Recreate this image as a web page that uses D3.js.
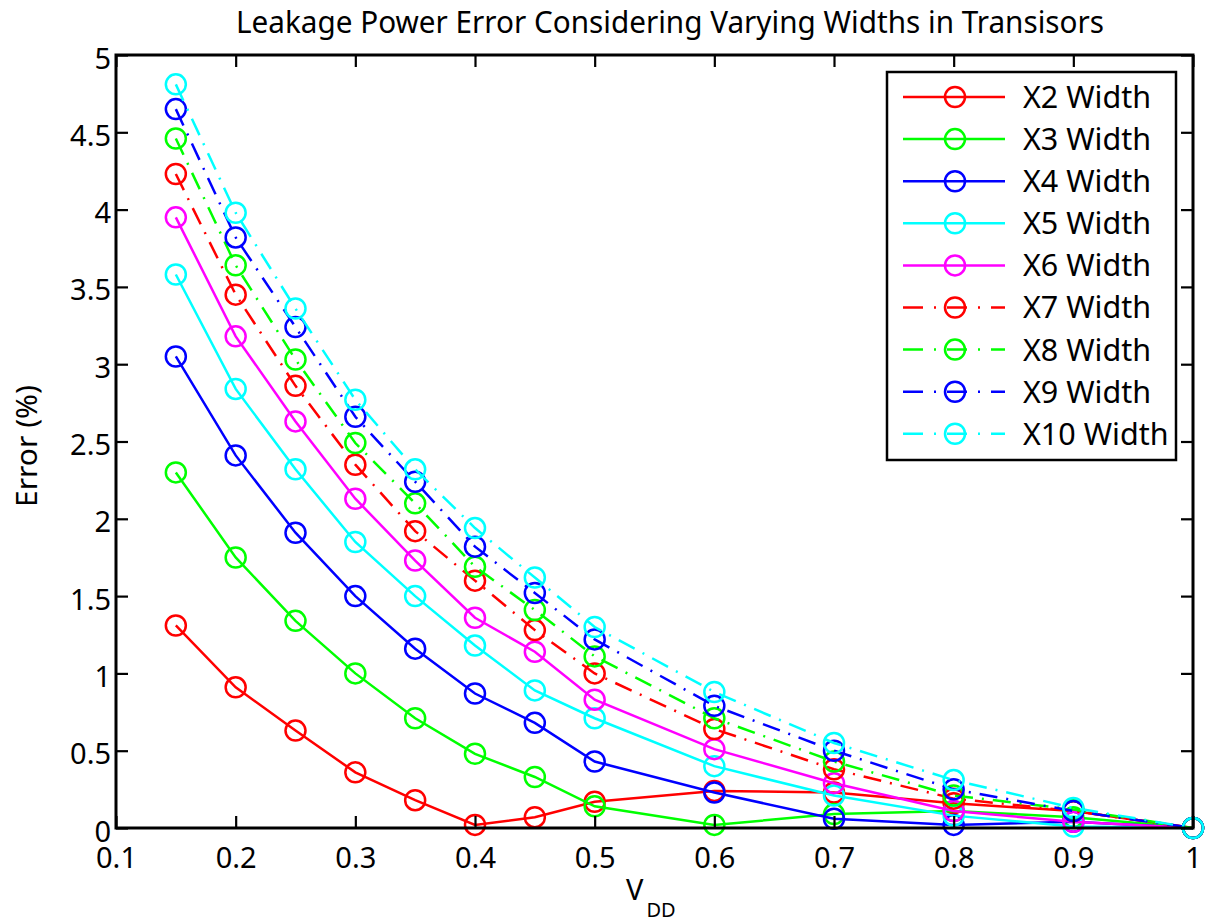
<!DOCTYPE html>
<html><head><meta charset="utf-8">
<script src="https://cdn.jsdelivr.net/npm/d3@7"></script>
<style>body{margin:0;background:#fff}svg{display:block}text{font-family:"Noto Sans",sans-serif;fill:#000}</style>
</head><body><svg id="c" width="1211" height="924"></svg>
<script>
const vdd = [0.15,0.2,0.25,0.3,0.35,0.4,0.45,0.5,0.6,0.7,0.8,0.9,1.0];
const x2  = [1.31,0.91,0.63,0.36,0.18,0.02,0.07,0.17,0.24,0.23,0.16,0.11,0];
const x3  = [2.30,1.75,1.34,1.00,0.71,0.48,0.33,0.14,0.02,0.09,0.11,0.07,0];
const x4  = [3.05,2.41,1.91,1.50,1.16,0.87,0.68,0.43,0.23,0.06,0.02,0.04,0];
const x5  = [3.58,2.84,2.32,1.85,1.50,1.18,0.89,0.71,0.40,0.21,0.08,0.01,0];
const x6  = [3.95,3.18,2.63,2.13,1.73,1.36,1.14,0.83,0.51,0.29,0.11,0.04,0];
const x7  = [4.23,3.45,2.86,2.35,1.92,1.60,1.28,1.00,0.64,0.38,0.19,0.11,0];
const x8  = [4.46,3.64,3.03,2.49,2.10,1.69,1.41,1.11,0.71,0.43,0.21,0.12,0];
const x9  = [4.65,3.82,3.24,2.66,2.24,1.82,1.52,1.22,0.79,0.50,0.25,0.11,0];
const x10 = [4.81,3.98,3.36,2.77,2.32,1.94,1.62,1.30,0.88,0.55,0.31,0.13,0];
const seriesNames = ["X2 Width","X3 Width","X4 Width","X5 Width","X6 Width","X7 Width","X8 Width","X9 Width","X10 Width"];
const seriesColors = ["#ff0000","#00ff00","#0000ff","#00ffff","#ff00ff","#ff0000","#00ff00","#0000ff","#00ffff"];
const seriesDashed = [false,false,false,false,false,true,true,true,true];
const xTicks = [0.1,0.2,0.3,0.4,0.5,0.6,0.7,0.8,0.9,1];
const yTicks = [0,0.5,1,1.5,2,2.5,3,3.5,4,4.5,5];
const title = "Leakage Power Error Considering Varying Widths in Transisors";

const allVals = [x2,x3,x4,x5,x6,x7,x8,x9,x10];
const series = seriesNames.map((n,i)=>({name:n,color:seriesColors[i],dashed:seriesDashed[i],values:allVals[i]}));

const svg = d3.select("#c");
const L=116,R=1193,T=55,B=828;
const x = d3.scaleLinear().domain([0.1,1]).range([L,R]);
const y = d3.scaleLinear().domain([0,5]).range([B,T]);
const dash = "18,9,2,9";
const lw = 2.5;

const plot = svg.append("g");
const line = d3.line().x((d,i)=>x(vdd[i])).y(d=>y(d));
series.forEach(s=>{
  plot.append("path").datum(s.values).attr("d",line).attr("fill","none")
    .attr("stroke",s.color).attr("stroke-width",lw)
    .attr("stroke-dasharray",s.dashed?dash:null);
  plot.selectAll(null).data(s.values).enter().append("circle")
    .attr("cx",(d,i)=>x(vdd[i])).attr("cy",d=>y(d)).attr("r",10)
    .attr("fill","none").attr("stroke",s.color).attr("stroke-width",lw);
});

// axes
const fs = 29;
const ax = svg.append("g").attr("transform",`translate(0,${B})`)
  .call(d3.axisBottom(x).tickValues(xTicks).tickSize(-12).tickPadding(19).tickFormat(d=>d3.format("")(d)));
const axT = svg.append("g").attr("transform",`translate(0,${T})`)
  .call(d3.axisTop(x).tickValues(xTicks).tickSize(-12).tickFormat(""));
const ay = svg.append("g").attr("transform",`translate(${L},0)`)
  .call(d3.axisLeft(y).tickValues(yTicks).tickSize(-12).tickPadding(5).tickFormat(d=>d3.format("")(d)));
const ayR = svg.append("g").attr("transform",`translate(${R},0)`)
  .call(d3.axisRight(y).tickValues(yTicks).tickSize(-12).tickFormat(""));
[ax,axT,ay,ayR].forEach(g=>{
  g.select(".domain").remove();
  g.selectAll(".tick line").attr("stroke","#000").attr("stroke-width",2.2);
  g.selectAll("text").attr("font-size",fs).attr("font-family","Noto Sans").attr("fill","#000");
});
ax.selectAll("text").attr("dy","0.71em");
ay.selectAll("text").attr("dy","0.45em");
svg.append("rect").attr("x",L).attr("y",T).attr("width",R-L).attr("height",B-T)
  .attr("fill","none").attr("stroke","#000").attr("stroke-width",3);

// title
svg.append("text").attr("x",670).attr("y",33).attr("text-anchor","middle")
  .attr("font-size",30).attr("textLength",868).attr("lengthAdjust","spacingAndGlyphs").text(title);
// y label
svg.append("text").attr("transform","translate(37,446) rotate(-90)").attr("text-anchor","middle")
  .attr("font-size",29).attr("textLength",122).attr("lengthAdjust","spacingAndGlyphs").text("Error (%)");
// x label
const xl = svg.append("text").attr("x",626).attr("y",900).attr("font-size",29);
xl.append("tspan").text("V");
xl.append("tspan").attr("font-size",20).attr("dx",3).attr("dy",17).text("DD");

// legend
const lg = svg.append("g");
lg.append("rect").attr("x",887).attr("y",72).attr("width",289).attr("height",388)
  .attr("fill","#fff").attr("stroke","#000").attr("stroke-width",2.5);
series.forEach((s,i)=>{
  const cy = 97 + i*42.1;
  lg.append("line").attr("x1",903).attr("x2",1005).attr("y1",cy).attr("y2",cy)
    .attr("stroke",s.color).attr("stroke-width",lw).attr("stroke-dasharray",s.dashed?"20,11,2,11":null);
  lg.append("circle").attr("cx",955).attr("cy",cy).attr("r",10).attr("fill","none")
    .attr("stroke",s.color).attr("stroke-width",lw);
  lg.append("text").attr("x",1023).attr("y",cy).attr("dy","0.36em").attr("font-size",30.5).text(s.name);
});
</script></body></html>
